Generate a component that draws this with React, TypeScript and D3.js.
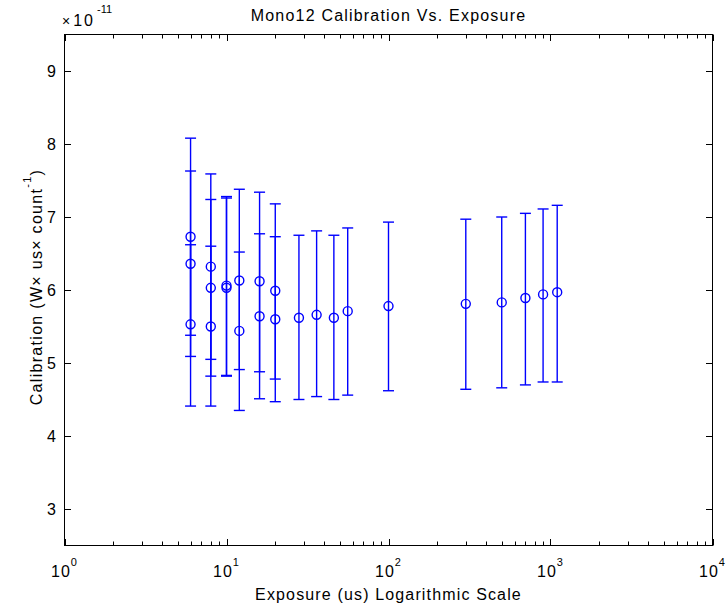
import React from "react";
import * as d3 from "d3";

// Exposure (us) for each measured point
const exposures = [6, 6, 6, 8, 8, 8, 10, 10, 12, 12, 16, 16, 20, 20, 28, 36, 46, 56, 100, 300, 500, 700, 900, 1100];
// Calibration mean (x 1e-11)
const means = [6.73, 6.36, 5.53, 6.32, 6.03, 5.50, 6.06, 6.03, 6.13, 5.44, 6.12, 5.64, 5.99, 5.60, 5.62, 5.66, 5.62, 5.71, 5.78, 5.81, 5.83, 5.89, 5.94, 5.97];
// Error-bar upper ends (x 1e-11)
const uppers = [8.08, 7.63, 6.62, 7.59, 7.24, 6.60, 7.28, 7.26, 7.38, 6.52, 7.34, 6.77, 7.18, 6.73, 6.75, 6.81, 6.75, 6.85, 6.93, 6.97, 7.00, 7.05, 7.11, 7.16];
// Error-bar lower ends (x 1e-11)
const lowers = [5.38, 5.09, 4.41, 5.05, 4.82, 4.41, 4.83, 4.82, 4.91, 4.35, 4.88, 4.51, 4.78, 4.47, 4.50, 4.54, 4.50, 4.56, 4.62, 4.64, 4.66, 4.70, 4.74, 4.74];

const xDecades = [1, 10, 100, 1000, 10000];
const yTicks = [3, 4, 5, 6, 7, 8, 9];
const yExponent = "-11";
const title = "Mono12 Calibration Vs. Exposure";
const xLabel = "Exposure (us) Logarithmic Scale";

const W = 727;
const H = 610;
const L = 64.5, R = 712.5, T = 34.5, B = 545.5;
const FONT = "'Liberation Sans', Arial, Helvetica, sans-serif";
const BLUE = "#0000ff";

export default function App() {
  const x = d3.scaleLog().domain([1, 10000]).range([L, R]);
  const y = d3.scaleLinear().domain([2.5, 9.5]).range([B, T]);

  const minor: number[] = [];
  for (let d = 1; d < 10000; d *= 10) {
    for (let k = 2; k <= 9; k++) minor.push(d * k);
  }
  const major = 6.5;
  const minorLen = 4;

  const pts = exposures.map((e, i) => ({ e, m: means[i], lo: lowers[i], hi: uppers[i] }));
  const cap = 5.5;

  return (
    <svg width={W} height={H} style={{ position: "absolute", left: 0, top: 0, background: "#fff" }}
      fontFamily={FONT}>
      <rect x={0} y={0} width={W} height={H} fill="#fff" />
      {/* box */}
      <rect x={L} y={T} width={R - L} height={B - T} fill="none" stroke="#000" strokeWidth={1} />
      {/* x ticks */}
      {xDecades.map((v) => (
        <g key={"xM" + v}>
          <line x1={Math.round(x(v)) + 0.5} x2={Math.round(x(v)) + 0.5} y1={B} y2={B - major} stroke="#000" />
          <line x1={Math.round(x(v)) + 0.5} x2={Math.round(x(v)) + 0.5} y1={T} y2={T + major} stroke="#000" />
        </g>
      ))}
      {minor.map((v) => (
        <g key={"xm" + v}>
          <line x1={Math.round(x(v)) + 0.5} x2={Math.round(x(v)) + 0.5} y1={B} y2={B - minorLen} stroke="#000" />
          <line x1={Math.round(x(v)) + 0.5} x2={Math.round(x(v)) + 0.5} y1={T} y2={T + minorLen} stroke="#000" />
        </g>
      ))}
      {/* y ticks */}
      {yTicks.map((v) => (
        <g key={"y" + v}>
          <line x1={L} x2={L + major} y1={Math.round(y(v)) + 0.5} y2={Math.round(y(v)) + 0.5} stroke="#000" />
          <line x1={R} x2={R - major} y1={Math.round(y(v)) + 0.5} y2={Math.round(y(v)) + 0.5} stroke="#000" />
          <text x={56} y={y(v)} dy="0.36em" textAnchor="end" fontSize={16} fill="#000">{v}</text>
        </g>
      ))}
      {/* x tick labels */}
      {xDecades.map((v) => (
        <text key={"xl" + v} x={x(v)} y={577} textAnchor="middle" fontSize={16} letterSpacing={1} fill="#000">
          <tspan>10</tspan>
          <tspan dy={-11} fontSize={11}>{Math.round(Math.log10(v))}</tspan>
        </text>
      ))}
      {/* exponent multiplier */}
      <text x={62} y={26} fontSize={16} fill="#000">
        <tspan fontSize={14}>×</tspan>
        <tspan dx={3} letterSpacing={2}>10</tspan>
        <tspan dy={-13} dx={2} fontSize={11}>{yExponent}</tspan>
      </text>
      {/* title */}
      <text x={(L + R) / 2} y={21} textAnchor="middle" fontSize={16} letterSpacing={1.2} fill="#000">{title}</text>
      {/* x label */}
      <text x={(L + R) / 2} y={600} textAnchor="middle" fontSize={16} letterSpacing={1.15} fill="#000">{xLabel}</text>
      {/* y label */}
      <text transform={`translate(41.5,${(T + B) / 2 - 3}) rotate(-90)`} textAnchor="middle" fontSize={16} letterSpacing={1.3} fill="#000">
        <tspan>Calibration (W× us× count</tspan>
        <tspan dy={-11} fontSize={11}>-1</tspan>
        <tspan dy={11}>)</tspan>
      </text>
      {/* data */}
      <g stroke={BLUE} strokeWidth={1.4} fill="none">
        {pts.map((p, i) => {
          const cx = x(p.e);
          return (
            <g key={"p" + i}>
              <line x1={cx} x2={cx} y1={y(p.lo)} y2={y(p.hi)} />
              <line x1={cx - cap} x2={cx + cap} y1={y(p.lo)} y2={y(p.lo)} />
              <line x1={cx - cap} x2={cx + cap} y1={y(p.hi)} y2={y(p.hi)} />
              <circle cx={cx} cy={y(p.m)} r={4.5} />
            </g>
          );
        })}
      </g>
    </svg>
  );
}
